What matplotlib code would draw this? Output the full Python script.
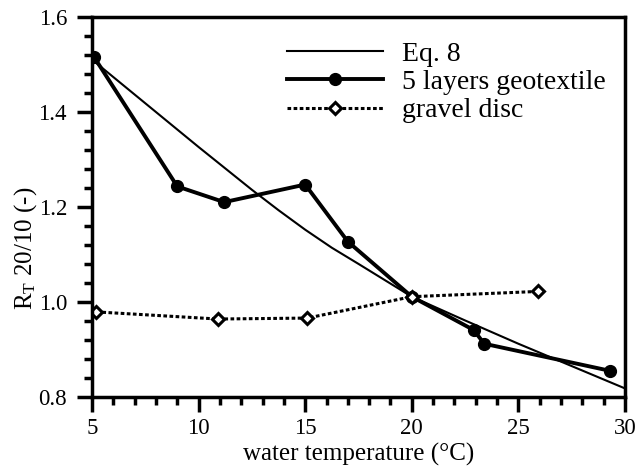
import numpy as np
import matplotlib
matplotlib.use("Agg")
import matplotlib.pyplot as plt
from matplotlib.ticker import MultipleLocator

plt.rcParams['font.family'] = ['Liberation Serif', 'DejaVu Serif']
plt.rcParams['mathtext.fontset'] = 'custom'
plt.rcParams['mathtext.rm'] = 'Liberation Serif'

# Eq. 8 curve
eq_t = [5, 7.5, 10, 12.5, 13.75, 15, 16.25, 17.5, 20, 22.5, 25, 27.5, 30]
eq_r = [1.51, 1.418, 1.326, 1.236, 1.193, 1.152, 1.114, 1.080, 1.011,
        0.961, 0.912, 0.865, 0.818]

# 5 layers geotextile
geo_t = [5.1, 9.0, 11.2, 15.0, 17.0, 20.0, 22.9, 23.4, 29.3]
geo_r = [1.515, 1.243, 1.21, 1.247, 1.127, 1.011, 0.941, 0.912, 0.855]

# gravel disc
grav_t = [5.2, 10.9, 15.1, 20.0, 25.9]
grav_r = [0.979, 0.964, 0.966, 1.011, 1.022]

fig = plt.figure(figsize=(6.39, 4.67), dpi=100)
ax = fig.add_axes([0.144, 0.150, 0.834, 0.814])

ax.plot(eq_t, eq_r, color='black', lw=1.5, label='Eq. 8')
ax.plot(geo_t, geo_r, color='black', lw=2.8, marker='o', ms=8.5,
        label='5 layers geotextile')
ax.plot(grav_t, grav_r, color='black', lw=2.2, ls=(0, (1.2, 0.8)),
        marker='D', ms=6.5, mfc='white', mew=2.2, label='gravel disc')

ax.set_xlim(5, 30)
ax.set_ylim(0.8, 1.6)
ax.xaxis.set_major_locator(MultipleLocator(5))
ax.xaxis.set_minor_locator(MultipleLocator(1))
ax.yaxis.set_major_locator(MultipleLocator(0.2))
ax.yaxis.set_minor_locator(MultipleLocator(0.04))
ax.yaxis.set_major_formatter(matplotlib.ticker.FormatStrFormatter('%.1f'))

for s in ax.spines.values():
    s.set_linewidth(2.5)
ax.tick_params(which='major', length=11, width=2.5, labelsize=16.5)
ax.tick_params(axis='y', which='major', pad=7)
ax.tick_params(axis='x', which='major', pad=4)
ax.tick_params(which='minor', length=6, width=2.5)

ax.set_xlabel('water temperature (°C)', fontsize=18, labelpad=3)
ax.set_ylabel(r'$\mathrm{R_T}$ 20/10 (-)', fontsize=18)
ax.yaxis.set_label_coords(-0.10, 0.39)

ax.legend(loc='upper left', bbox_to_anchor=(0.366, 0.935), frameon=False,
          fontsize=20, handlelength=3.45, handletextpad=0.68,
          labelspacing=0.1, borderaxespad=0, borderpad=0)

fig.savefig('out.png', dpi=100)
